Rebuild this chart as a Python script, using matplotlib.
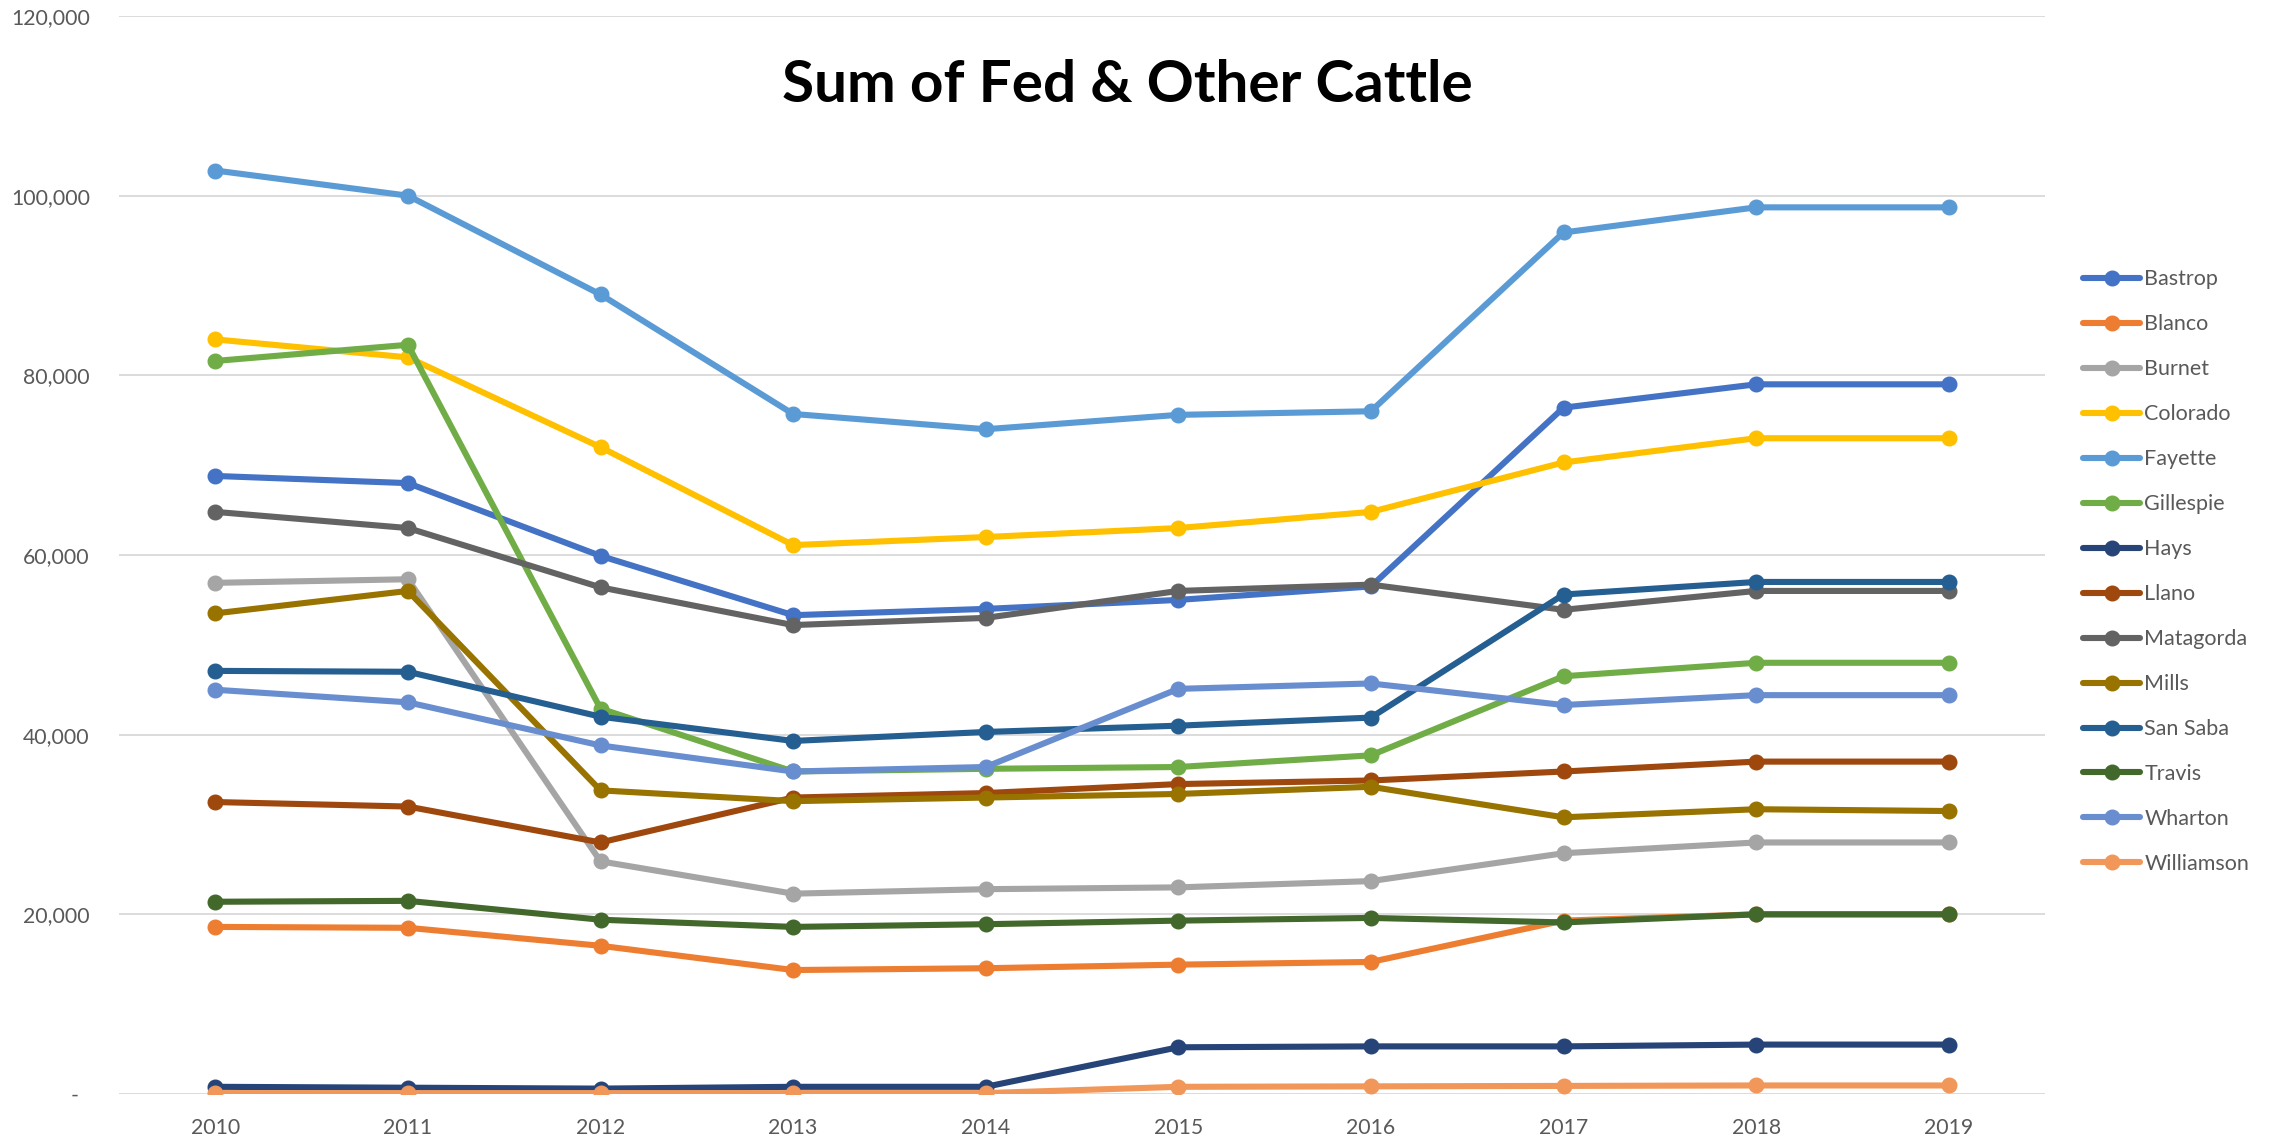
import matplotlib
matplotlib.use("Agg")
import matplotlib.pyplot as plt
from matplotlib.ticker import FuncFormatter, MultipleLocator

years = [2010, 2011, 2012, 2013, 2014, 2015, 2016, 2017, 2018, 2019]

bastrop = [68800, 68000, 59900, 53300, 54000, 55000, 56500, 76400, 79000, 79000]
blanco = [18600, 18500, 16500, 13800, 14000, 14400, 14700, 19300, 20000, 20000]
burnet = [56900, 57300, 25900, 22300, 22800, 23000, 23700, 26800, 28000, 28000]
colorado = [84000, 82000, 72000, 61100, 62000, 63000, 64800, 70300, 73000, 73000]
fayette = [102800, 100000, 89000, 75700, 74000, 75600, 76000, 95900, 98700, 98700]
gillespie = [81600, 83400, 42900, 35900, 36200, 36400, 37700, 46500, 48000, 48000]
hays = [800, 700, 600, 800, 800, 5200, 5300, 5300, 5500, 5500]
llano = [32500, 32000, 28000, 33000, 33500, 34500, 34900, 35900, 37000, 37000]
matagorda = [64800, 63000, 56400, 52200, 53000, 56000, 56700, 53900, 56000, 56000]
mills = [53500, 56000, 33800, 32600, 33000, 33400, 34200, 30800, 31700, 31500]
san_saba = [47100, 47000, 42000, 39300, 40300, 41000, 41900, 55600, 57000, 57000]
travis = [21400, 21500, 19400, 18600, 18900, 19300, 19600, 19100, 20000, 20000]
wharton = [45000, 43600, 38800, 35900, 36400, 45100, 45700, 43300, 44400, 44400]
williamson = [100, 100, 100, 100, 100, 800, 850, 900, 950, 950]

counties = ["Bastrop", "Blanco", "Burnet", "Colorado", "Fayette", "Gillespie", "Hays",
            "Llano", "Matagorda", "Mills", "San Saba", "Travis", "Wharton", "Williamson"]
series = [bastrop, blanco, burnet, colorado, fayette, gillespie, hays,
          llano, matagorda, mills, san_saba, travis, wharton, williamson]
colors = ["#4472C4", "#ED7D31", "#A5A5A5", "#FFC000", "#5B9BD5", "#70AD47", "#264478",
          "#9E480E", "#636363", "#997300", "#255E91", "#43682B", "#698ED0", "#F1975A"]

plt.rcParams["font.family"] = ["Lato", "DejaVu Sans"]

fig = plt.figure(figsize=(22.77, 11.41), dpi=100)
ax = fig.add_axes([119 / 2277, 1 - 1094 / 1141, (2045 - 119) / 2277, (1094 - 16) / 1141])

x = list(range(len(years)))
for name, vals, c in zip(counties, series, colors):
    ax.plot(x, vals, color=c, lw=4.4, marker="o", ms=10.5, label=name,
            solid_capstyle="round", solid_joinstyle="round")

ax.set_xlim(-0.5, len(years) - 0.5)
ax.set_ylim(0, 120000)
ax.set_xticks(x)
ax.set_xticklabels([str(y) for y in years])
ax.yaxis.set_major_locator(MultipleLocator(20000))
ax.yaxis.set_major_formatter(FuncFormatter(lambda v, p: f"{v:,.0f}" if v else "-  "))
ax.grid(axis="y", color="#D9D9D9", lw=1.3)
ax.set_axisbelow(True)
for s in ax.spines.values():
    s.set_visible(False)
ax.tick_params(axis="both", length=0, labelsize=15.3, labelcolor="#595959")
ax.tick_params(axis="y", pad=21)
ax.tick_params(axis="x", pad=17)

fig.text(0.4953, 1 - 85 / 1141, "Sum of Fed & Other Cattle", ha="center", va="center",
         fontsize=42, fontweight="bold", color="black")

fig.legend(loc="center left", bbox_to_anchor=(2083 / 2277, 0.499), frameon=False,
           fontsize=15.5, labelcolor="#595959", borderpad=0, handlelength=2.65,
           handletextpad=0.2, labelspacing=1.16, borderaxespad=0)

fig.savefig("out.png", dpi=100)
